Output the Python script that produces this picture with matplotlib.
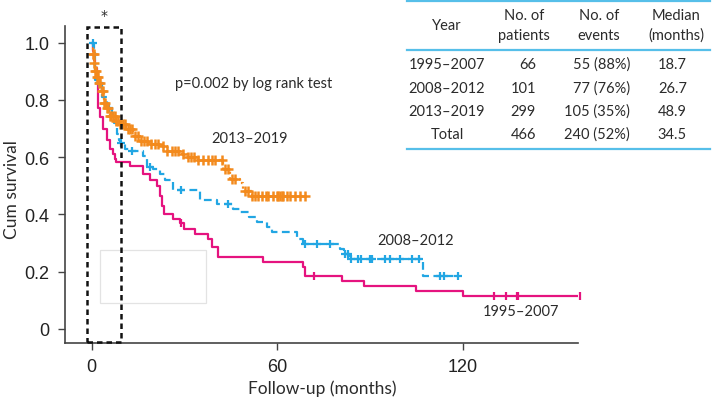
import matplotlib
matplotlib.use("Agg")
import matplotlib.pyplot as plt
import numpy as np
from matplotlib.patches import Rectangle

# -- data ----------------------------------------------------------------------
# Kaplan-Meier step curves: event times (months) and survival after each step
t_1995 = [0, 0.3, 0.7, 1.2, 1.7, 2.0, 2.1, 2.6, 3.6, 4.9, 5.8, 6.8, 7.4, 8.0,
          12.3, 16.5, 18.8, 21.0, 22.0, 22.7, 23.3, 26.2, 28.5, 30.0, 33.3,
          37.5, 38.8, 40.8, 55.3, 68.3, 69.0, 81.0, 88.0, 105.0, 120.0]
s_1995 = [1.0, 0.97, 0.94, 0.91, 0.87, 0.82, 0.77, 0.74, 0.70, 0.66, 0.63, 0.61,
          0.594, 0.584, 0.57, 0.54, 0.52, 0.50, 0.465, 0.43, 0.40, 0.385, 0.37,
          0.35, 0.332, 0.315, 0.287, 0.252, 0.234, 0.217, 0.185, 0.168, 0.15,
          0.133, 0.115]
end_1995 = 158.0
cens_1995 = [29.0, 72.0, 130.0, 134.0, 137.5, 138.0, 158.0]

t_2008 = [0, 0.8, 1.0, 1.2, 2.0, 3.2, 4.9, 6.5, 7.1, 8.1, 8.7, 9.0, 10.7, 12.3,
          16.5, 17.8, 19.7, 22.0, 23.6, 26.2, 35.0, 40.5, 45.6, 47.9, 51.0, 53.4,
          56.6, 58.3, 66.3, 68.3, 80.3, 81.6, 83.5, 107.1]
s_2008 = [1.0, 0.97, 0.93, 0.87, 0.86, 0.81, 0.77, 0.74, 0.72, 0.68, 0.66, 0.65,
          0.63, 0.62, 0.605, 0.566, 0.56, 0.54, 0.52, 0.485, 0.45, 0.437, 0.42,
          0.41, 0.39, 0.374, 0.356, 0.34, 0.315, 0.297, 0.28, 0.262, 0.245, 0.185]
end_2008 = 118.4
cens_2008 = [0.5, 2.5, 5.5, 9.5, 13.0, 19.0, 29.0, 44.0, 69.0, 73.0, 77.0, 82.0,
             83.0, 84.0, 86.0, 87.0, 90.0, 90.6, 95.0, 96.4, 99.7, 103.5, 106.0,
             112.6, 114.0, 118.4]

t_2013 = [0, 0.3, 0.7, 1.0, 1.6, 2.3, 2.9, 3.9, 4.5, 5.8, 7.8, 9.1, 11.0, 13.3,
          15.5, 18.4, 22.0, 24.3, 28.5, 31.0, 34.0, 42.4, 44.7, 47.9, 48.9, 51.8]
s_2013 = [1.0, 0.96, 0.93, 0.90, 0.88, 0.86, 0.83, 0.79, 0.77, 0.745, 0.727,
          0.717, 0.70, 0.675, 0.657, 0.647, 0.64, 0.622, 0.612, 0.60, 0.59, 0.56,
          0.524, 0.51, 0.483, 0.465]
end_2013 = 69.6
cens_2013 = [0.3, 0.6, 0.9, 1.2, 1.5, 1.8, 2.1, 2.5, 2.8, 3.2, 3.6, 4.0, 4.4, 4.8,
             5.3, 5.8, 6.3, 6.8, 7.4, 8.0, 8.6, 9.3, 10.0, 10.8, 11.6, 12.4, 13.2,
             14.0, 15.0, 16.0, 17.0, 18.0, 19.2, 20.4, 21.6, 23.0, 24.5, 26.0,
             27.0, 28.0, 29.5, 31.0, 32.0, 33.0, 34.5, 36.0, 37.5, 39.0, 40.0,
             42.0, 43.0, 44.0, 45.5, 46.5, 49.5, 50.5, 51.8, 52.8, 53.8, 55.0,
             56.4, 57.0, 58.6, 59.9, 60.2, 60.9, 61.5, 61.8, 63.1, 64.1, 65.7,
             67.3, 69.0]

group_labels = ["1995\u20132007", "2008\u20132012", "2013\u20132019"]
n_patients = [66, 101, 299, 466]
n_events = ["55 (88%)", "77 (76%)", "105 (35%)", "240 (52%)"]
median_os = [18.7, 26.7, 48.9, 34.5]
row_labels = group_labels + ["Total"]

MAGENTA = "#e5137f"
BLUE = "#22a6e3"
ORANGE = "#f38a1d"
TABLE_LINE = "#56bfe9"
TXT = "#2b2b2b"
FONT = ["Lato", "DejaVu Sans"]

W, H = 712, 402
fig = plt.figure(figsize=(W / 100, H / 100), dpi=100)
ax = fig.add_axes([65 / W, 1 - 344 / H, (578 - 65) / W, (344 - 27) / H])


def km(ax, t, s, end, cens, color, ls, marker, ms, mew):
    xs = list(t) + [end]
    ys = list(s) + [s[-1]]
    ax.step(xs, ys, where="post", color=color, ls=ls, lw=1.6, zorder=3)
    idx = np.searchsorted(np.asarray(t), np.asarray(cens), side="right") - 1
    cy = np.asarray(s)[idx]
    ax.plot(cens, cy, ls="none", marker=marker, color=color, ms=ms, mew=mew,
            zorder=4, clip_on=False)


km(ax, t_1995, s_1995, end_1995, cens_1995, MAGENTA, "-", "|", 6, 1.6)
km(ax, t_2008, s_2008, end_2008, cens_2008, BLUE, (0, (3.5, 2)), "+", 6, 1.6)
km(ax, t_2013, s_2013, end_2013, cens_2013, ORANGE, (0, (1, 1.5)), "+", 6.5, 1.8)

ax.set_xlim(-8.63, 157.3)
ax.set_ylim(-0.049, 1.058)
ax.set_xticks([0, 60, 120])
ax.set_yticks([0, 0.2, 0.4, 0.6, 0.8, 1.0])
ax.set_yticklabels(["0", "0.2", "0.4", "0.6", "0.8", "1.0"])
for sp in ["top", "right"]:
    ax.spines[sp].set_visible(False)
for sp in ["left", "bottom"]:
    ax.spines[sp].set_color("#444444")
    ax.spines[sp].set_linewidth(1.2)
ax.tick_params(direction="out", length=5, width=1, color="#444444",
               labelsize=13, labelcolor="#222222", pad=6)
for lab in ax.get_xticklabels() + ax.get_yticklabels():
    lab.set_family(["Liberation Sans", "DejaVu Sans"])

# dashed box around the first months and the faint grey frame
ax.add_patch(Rectangle((-1.5, -0.045), 11.0, 1.099, fill=False, ec="#111111",
                       ls=(0, (2.2, 1.6)), lw=1.8, clip_on=False, zorder=5))
ax.add_patch(Rectangle((2.7, 0.091), 34.3, 0.185, fill=False, ec="#e3e3e3",
                       lw=0.9, zorder=1))

ax.text(26.9, 0.859, "p=0.002 by log rank test", fontsize=10.5, family=FONT,
        color=TXT, va="center")
ax.text(38.6, 0.667, group_labels[2], fontsize=10.5, family=FONT, color=TXT,
        va="center")
ax.text(92.3, 0.311, group_labels[1], fontsize=10.5, family=FONT, color=TXT,
        va="center")
ax.text(126.6, 0.063, group_labels[0], fontsize=10.5, family=FONT, color=TXT,
        va="center")

fig.text(104 / W, 1 - 16 / H, "*", fontsize=10, ha="center", va="center",
         color=TXT)
fig.text(12 / W, 1 - 190 / H, "Cum survival", rotation=90, fontsize=12.5,
         family=FONT, color=TXT, ha="center", va="center")
fig.text(322 / W, 1 - 389 / H, "Follow-up (months)", fontsize=12.5,
         family=FONT, color=TXT, ha="center", va="center")

# summary table (figure pixel coordinates)
def ft(x, y, s, ha="center"):
    fig.text(x / W, 1 - y / H, s, fontsize=10.5, family=FONT, color=TXT,
             ha=ha, va="center")


for y in (2, 51, 150):
    fig.add_artist(plt.Line2D([407 / W, 710 / W], [1 - y / H, 1 - y / H],
                              color=TABLE_LINE, lw=1.6))
ft(447, 26, "Year")
ft(524, 16, "No. of")
ft(524, 36, "patients")
ft(599, 16, "No. of")
ft(599, 36, "events")
ft(676, 16, "Median")
ft(676, 36, "(months)")
row_y = [65, 89, 112, 135]
for i, y in enumerate(row_y):
    ft(447, y, row_labels[i])
    ft(536, y, str(n_patients[i]), ha="right")
    ft(630, y, n_events[i], ha="right")
    ft(687, y, f"{median_os[i]:.1f}", ha="right")

fig.savefig("out.png", dpi=100)
